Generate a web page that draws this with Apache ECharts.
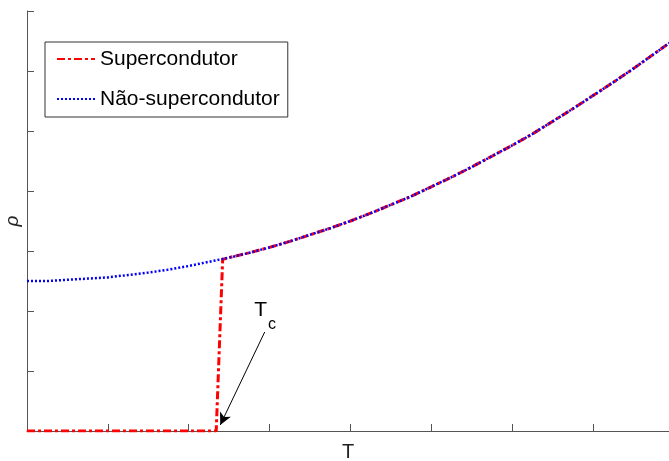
<!DOCTYPE html>
<html>
<head>
<meta charset="utf-8">
<script src="https://cdn.jsdelivr.net/npm/echarts@6/dist/echarts.min.js"></script>
<style>html,body{margin:0;padding:0;background:#fff}#c{width:669px;height:461px}</style>
</head>
<body>
<div id="c"></div>
<script>
// Temperature samples (x) and resistivity readings (y)
var tValues = [0, 0.25, 0.5, 0.75, 1, 1.25, 1.5, 1.75, 2, 2.25, 2.5, 2.75, 3, 3.25, 3.5, 3.75, 4, 4.25, 4.5, 4.75, 5, 5.25, 5.5, 5.75, 6, 6.25, 6.5, 6.75, 7, 7.25, 7.5, 7.75, 8];
var rhoNormal = [2.50, 2.50, 2.52, 2.54, 2.56, 2.60, 2.64, 2.69, 2.75, 2.82, 2.89, 2.97, 3.06, 3.16, 3.27, 3.38, 3.50, 3.63, 3.77, 3.91, 4.07, 4.23, 4.40, 4.58, 4.76, 4.95, 5.16, 5.37, 5.59, 5.81, 6.04, 6.28, 6.52];
// Superconducting branch: zero below the transition, then following the normal curve
var tSuperLow = [0, 2.34];
var rhoSuperLow = [0, 0];
var tTransitionTop = 2.42;
var rhoTransitionTop = 2.86;
var seriesNames = ['Supercondutor', 'Não-supercondutor'];
var xTicks = [0, 1, 2, 3, 4, 5, 6, 7];
var yTicks = [0, 1, 2, 3, 4, 5, 6, 7];
var axisNameX = 'T';
var axisNameY = 'ρ';
// Annotation (data coordinates)
var arrowFrom = [2.94, 1.65];
var arrowTo = [2.39, 0.10];
var labelMain = 'T';
var labelSub = 'c';
var labelMainAt = [2.89, 2.01];
var labelSubAt = [3.03, 1.77];

var normalData = tValues.map(function (t, i) { return [t, rhoNormal[i]]; });
var superData = tSuperLow.map(function (t, i) { return [t, rhoSuperLow[i]]; });
superData.push([tTransitionTop, rhoTransitionTop]);
tValues.forEach(function (t, i) { if (t > tTransitionTop) superData.push([t, rhoNormal[i]]); });

var chart = echarts.init(document.getElementById('c'), null, {renderer: 'canvas'});
var axisColor = '#555';
var font = 'Liberation Sans, Arial, Helvetica, sans-serif';
chart.setOption({
  animation: false,
  backgroundColor: '#fff',
  grid: {left: 27, top: 11, bottom: 30, right: 0, containLabel: false, outerBoundsMode: 'none'},
  xAxis: {
    type: 'value', min: 0, max: 7.94, interval: 1,
    axisLine: {lineStyle: {color: axisColor, width: 1}},
    axisTick: {inside: true, length: 7, lineStyle: {color: axisColor}},
    axisLabel: {show: false},
    splitLine: {show: false},
    name: axisNameX, nameLocation: 'middle', nameGap: 11,
    nameTextStyle: {fontFamily: font, fontSize: 20, color: '#222', verticalAlign: 'top'}
  },
  yAxis: {
    type: 'value', min: 0, max: 7, interval: 1,
    axisLine: {lineStyle: {color: axisColor, width: 1}},
    axisTick: {inside: true, length: 7, lineStyle: {color: axisColor}},
    axisLabel: {show: false},
    splitLine: {show: false},
    name: axisNameY, nameLocation: 'middle', nameGap: 5, nameRotate: 90,
    nameTextStyle: {fontFamily: font, fontSize: 19, color: '#222', fontStyle: 'italic'}
  },
  legend: {
    orient: 'vertical', left: 45, top: 42,
    padding: [5, 8, 6, 11],
    itemWidth: 38, itemHeight: 14, itemGap: 16,
    borderColor: '#333', borderWidth: 1, backgroundColor: '#fff',
    itemStyle: {opacity: 0},
    textStyle: {fontFamily: font, fontSize: 21, color: '#000', lineHeight: 24},
    data: seriesNames
  },
  series: [
    {
      name: seriesNames[0], type: 'line', data: superData,
      symbol: 'none', showSymbol: false, z: 2,
      lineStyle: {color: '#ff0000', width: 3, type: [8, 3, 3, 3]},
      itemStyle: {color: '#ff0000'},
      markLine: {
        silent: true, symbol: ['none', 'arrow'], symbolSize: [9, 12],
        label: {show: false},
        lineStyle: {color: '#000', width: 1, type: 'solid'},
        data: [[{coord: arrowFrom}, {coord: arrowTo}]]
      }
    },
    {
      name: seriesNames[1], type: 'line', data: normalData,
      symbol: 'none', showSymbol: false, z: 3,
      lineStyle: {color: '#0000ff', width: 2.5, type: [2, 2]},
      itemStyle: {color: '#0000ff'}
    }
  ]
});
var pMain = chart.convertToPixel({gridIndex: 0}, labelMainAt);
var pSub = chart.convertToPixel({gridIndex: 0}, labelSubAt);
chart.setOption({
  graphic: [
    {type: 'text', x: pMain[0], y: pMain[1], style: {text: labelMain, fontFamily: font, fontSize: 21, fill: '#000', align: 'center', verticalAlign: 'middle'}},
    {type: 'text', x: pSub[0], y: pSub[1], style: {text: labelSub, fontFamily: font, fontSize: 16, fill: '#000', align: 'center', verticalAlign: 'middle'}}
  ]
});
</script>
</body>
</html>
